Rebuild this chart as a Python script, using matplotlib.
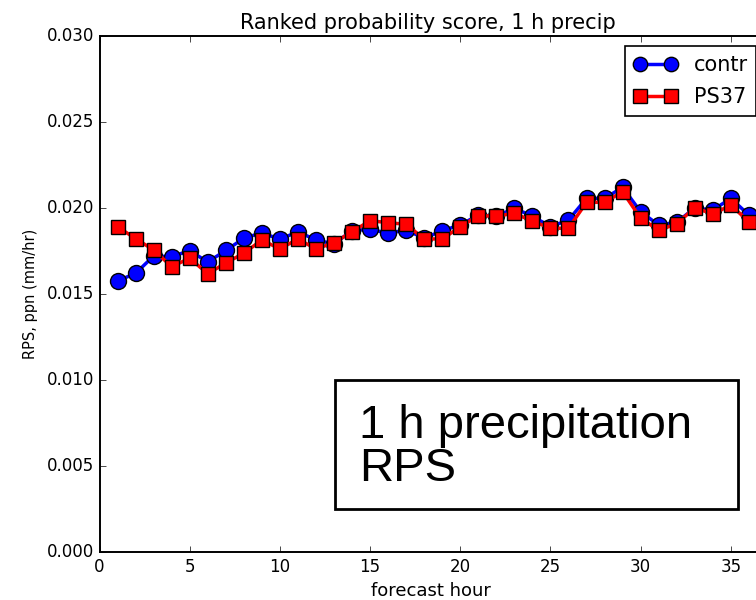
import matplotlib
matplotlib.use("Agg")
import matplotlib.pyplot as plt
from matplotlib.patches import Rectangle

# forecast hours and ranked probability scores for the two runs
hours = list(range(1, 37))
rps_contr = [0.01576, 0.01620, 0.01721, 0.01717, 0.01752, 0.01686, 0.01753, 0.01824,
             0.01856, 0.01818, 0.01862, 0.01814, 0.01791, 0.01869, 0.01876, 0.01853,
             0.01872, 0.01824, 0.01868, 0.01901, 0.01959, 0.01953, 0.01998, 0.01953,
             0.01891, 0.01930, 0.02056, 0.02056, 0.02120, 0.01978, 0.01901, 0.01917,
             0.02000, 0.01988, 0.02056, 0.01959]
rps_ps37 = [0.01891, 0.01822, 0.01756, 0.01659, 0.01708, 0.01618, 0.01680, 0.01737,
            0.01814, 0.01762, 0.01820, 0.01762, 0.01798, 0.01862, 0.01926, 0.01915,
            0.01905, 0.01820, 0.01820, 0.01891, 0.01955, 0.01953, 0.01969, 0.01924,
            0.01882, 0.01882, 0.02033, 0.02033, 0.02095, 0.01940, 0.01872, 0.01907,
            0.02002, 0.01965, 0.02017, 0.01920]

plt.style.use("classic")
plt.rcParams["axes.linewidth"] = 1.4

fig = plt.figure(figsize=(7.56, 6), dpi=100, facecolor="white")
ax = fig.add_axes([99.5 / 756, 48 / 600, 662 / 756, 516 / 600])

ax.plot(hours, rps_contr, "o-", color="blue", lw=2.5, ms=11.5, mec="black", mew=1,
        label="contr")
ax.plot(hours, rps_ps37, "s-", color="red", lw=2.5, ms=10.5, mec="black", mew=1,
        label="PS37")

ax.set_xlim(0, 36.7)
ax.set_ylim(0, 0.030)
ax.set_xticks(range(0, 40, 5))
ax.set_yticks([0.0, 0.005, 0.010, 0.015, 0.020, 0.025, 0.030])
ax.yaxis.set_major_formatter(matplotlib.ticker.FormatStrFormatter("%.3f"))
ax.tick_params(labelsize=12)

ax.set_title("Ranked probability score, 1 h precip", fontsize=15, x=0.496, y=1.0)
ax.set_xlabel("forecast hour", fontsize=13, labelpad=5)
ax.set_ylabel("RPS, ppn (mm/hr)", fontsize=10.5, labelpad=6)

# legend frame runs just past the right edge of the canvas
leg = ax.legend(loc="upper right", fontsize=15, numpoints=2, handlelength=2.1,
                handletextpad=0.78, labelspacing=0.6, markerscale=0.9,
                bbox_to_anchor=(756 / 756, 1 - 46.5 / 600),
                bbox_transform=fig.transFigure, borderaxespad=0)
leg.get_frame().set_linewidth(1.2)

# annotation box
fig.patches.append(Rectangle((335 / 756, 1 - 509 / 600), 403 / 756, 129 / 600,
                             transform=fig.transFigure, fc="white", ec="black", lw=2))
fig.text(359 / 756, 1 - 481 / 600, "1 h precipitation\nRPS", fontsize=34,
         family="Liberation Sans", ha="left", va="baseline", linespacing=0.97)

fig.savefig("out.png", dpi=100, facecolor="white")
